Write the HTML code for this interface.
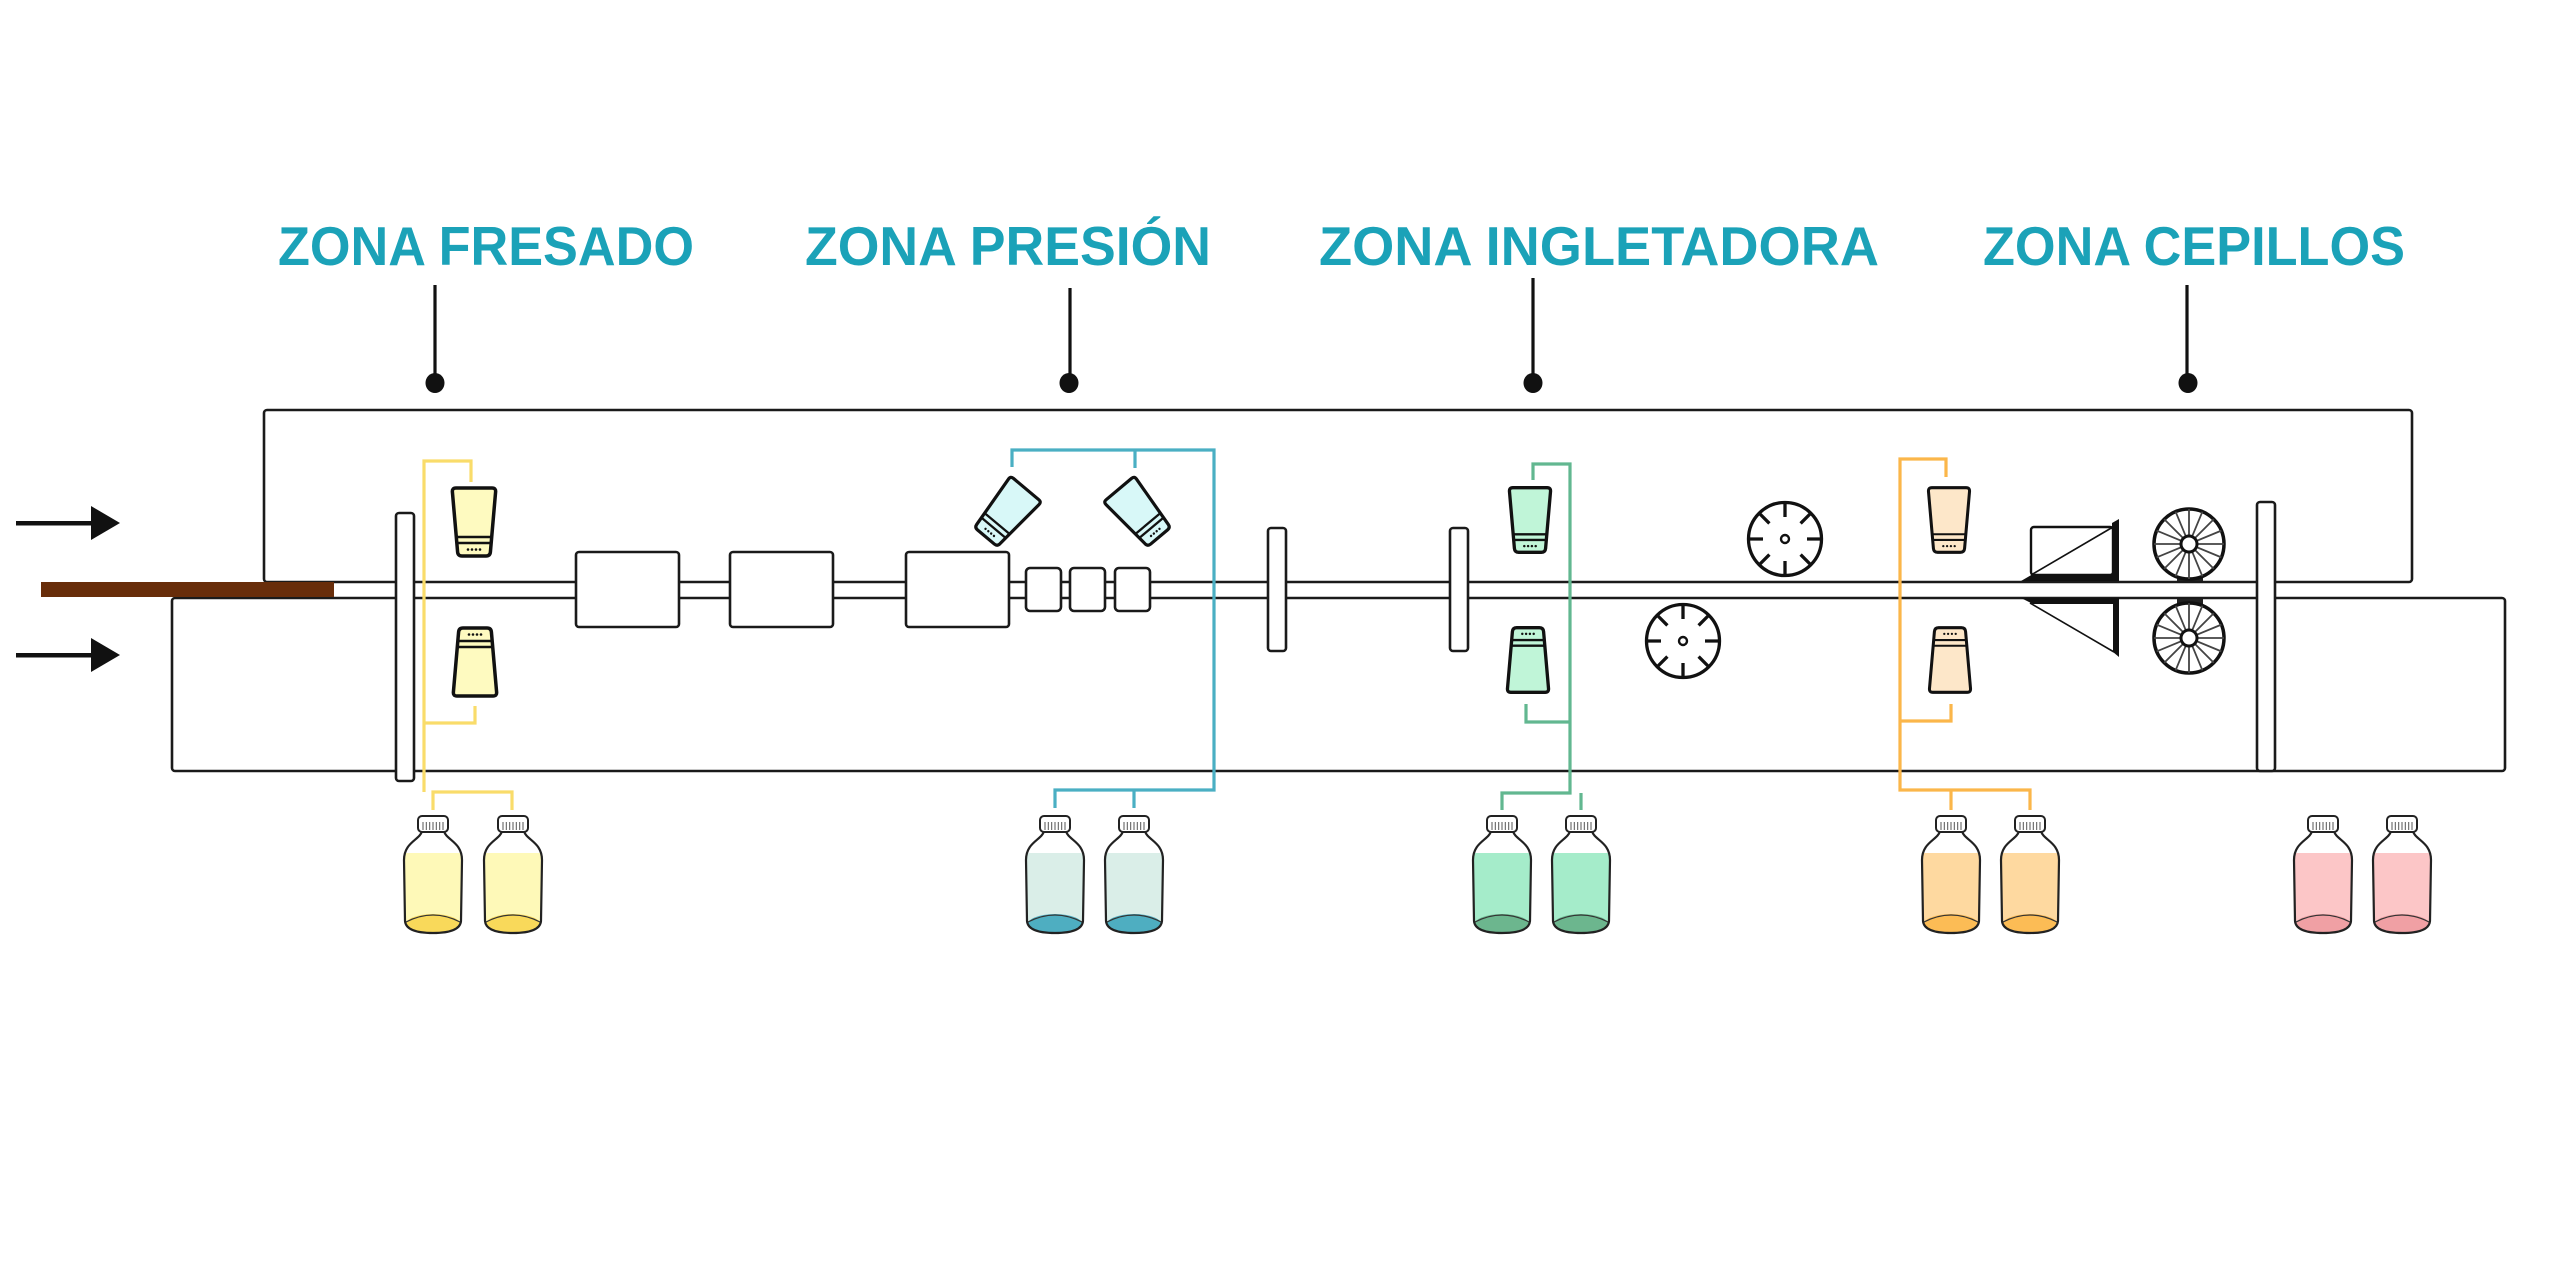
<!DOCTYPE html>
<html>
<head>
<meta charset="utf-8">
<style>
html,body{margin:0;padding:0;background:#fff;}
svg{display:block;}
</style>
</head>
<body>
<svg width="2560" height="1280" viewBox="0 0 2560 1280" xmlns="http://www.w3.org/2000/svg">
<defs>
<clipPath id="bodyclip" clipPathUnits="userSpaceOnUse">
<path d="M-11,15 C-13,24 -29,26 -29,44 L-28,105 Q-27,117 0,117 Q27,117 28,105 L29,44 C29,26 13,24 11,15 Z"/>
</clipPath>
</defs>
<rect width="2560" height="1280" fill="#fff"/>

<!-- Titles -->
<g font-family="'Liberation Sans', sans-serif" font-weight="bold" font-size="55" fill="#1ba2b8">
<text x="278" y="265" textLength="416" lengthAdjust="spacingAndGlyphs">ZONA FRESADO</text>
<text x="805" y="265" textLength="406" lengthAdjust="spacingAndGlyphs">ZONA PRESIÓN</text>
<text x="1319" y="265" textLength="560" lengthAdjust="spacingAndGlyphs">ZONA INGLETADORA</text>
<text x="1983" y="265" textLength="422" lengthAdjust="spacingAndGlyphs">ZONA CEPILLOS</text>
</g>

<!-- Pointer lines -->
<g stroke="#111" stroke-width="3.2">
<line x1="435" y1="285" x2="435" y2="383"/>
<line x1="1070" y1="288" x2="1070" y2="383"/>
<line x1="1533" y1="278" x2="1533" y2="383"/>
<line x1="2187" y1="285" x2="2187" y2="383"/>
</g>
<g fill="#111">
<ellipse cx="435" cy="383" rx="9.5" ry="10"/>
<ellipse cx="1069" cy="383" rx="9.5" ry="10"/>
<ellipse cx="1533" cy="383" rx="9.5" ry="10"/>
<ellipse cx="2188" cy="383" rx="9.5" ry="10"/>
</g>

<!-- Arrows -->
<g fill="#111">
<rect x="16" y="521" width="77" height="4.5"/>
<polygon points="91,506 120,523 91,540"/>
<rect x="16" y="653" width="77" height="4.5"/>
<polygon points="91,638 120,655 91,672"/>
</g>

<!-- Machine boxes -->
<g fill="none" stroke="#1a1a1a" stroke-width="2.6">
<rect x="264" y="410" width="2148" height="172" rx="3"/>
<rect x="172" y="598" width="2333" height="173" rx="3"/>
</g>

<!-- Brown board -->
<rect x="41" y="582" width="293" height="15" fill="#682d0a"/>

<!-- Conveyor blocks -->
<g fill="#fff" stroke="#1a1a1a" stroke-width="2.6">
<rect x="576" y="552" width="103" height="75" rx="3"/>
<rect x="730" y="552" width="103" height="75" rx="3"/>
<rect x="906" y="552" width="103" height="75" rx="3"/>
<rect x="1026" y="568" width="35" height="43" rx="4"/>
<rect x="1070" y="568" width="35" height="43" rx="4"/>
<rect x="1115" y="568" width="35" height="43" rx="4"/>
<!-- vertical bars -->
<rect x="396" y="513" width="18" height="268" rx="3"/>
<rect x="1268" y="528" width="18" height="123" rx="3"/>
<rect x="1450" y="528" width="18" height="123" rx="3"/>
<rect x="2257" y="502" width="18" height="269" rx="3"/>
</g>

<!-- Hoses -->
<g fill="none" stroke-width="3.2" stroke-linejoin="miter">
<g stroke="#f9dc6a">
<path d="M471,482 V461 H424 V792"/>
<path d="M475,706 V723 H424"/>
<path d="M433,810 V792 H512 V810"/>
</g>
<g stroke="#4aafc3">
<path d="M1012,467 V450 H1214 V790 H1055 V808"/>
<path d="M1135,468 V450"/>
<path d="M1134,790 V808"/>
</g>
<g stroke="#62b790">
<path d="M1533,480 V464 H1570 V793 H1502 V810"/>
<path d="M1526,704 V722 H1570"/>
<path d="M1581,793 V810"/>
</g>
<g stroke="#fbb64a">
<path d="M1946,477 V459 H1900 V790 H2030 V810"/>
<path d="M1951,704 V721 H1900"/>
<path d="M1951,790 V810"/>
</g>
</g>

<!-- Tools -->
<g stroke="#111" stroke-linejoin="round">
<!-- yellow upper -->
<g transform="translate(474,522)">
<path d="M-18,-34 L18,-34 Q22,-34 21.6,-30 L16.4,30 Q16,34 12,34 L-12,34 Q-16,34 -16.4,30 L-21.6,-30 Q-22,-34 -18,-34 Z" fill="#fefac0" stroke-width="3.5"/>
<line x1="-17.5" y1="15" x2="17.5" y2="15" stroke-width="2.5"/>
<line x1="-17" y1="21" x2="17" y2="21" stroke-width="2.5"/>
<g fill="#111" stroke="none"><circle cx="-6" cy="27.5" r="1.3"/><circle cx="-2" cy="27.5" r="1.3"/><circle cx="2" cy="27.5" r="1.3"/><circle cx="6" cy="27.5" r="1.3"/></g>
</g>
<!-- yellow lower -->
<g transform="translate(475,662) rotate(180)">
<path d="M-18,-34 L18,-34 Q22,-34 21.6,-30 L16.4,30 Q16,34 12,34 L-12,34 Q-16,34 -16.4,30 L-21.6,-30 Q-22,-34 -18,-34 Z" fill="#fefac0" stroke-width="3.5"/>
<line x1="-17.5" y1="15" x2="17.5" y2="15" stroke-width="2.5"/>
<line x1="-17" y1="21" x2="17" y2="21" stroke-width="2.5"/>
<g fill="#111" stroke="none"><circle cx="-6" cy="27.5" r="1.3"/><circle cx="-2" cy="27.5" r="1.3"/><circle cx="2" cy="27.5" r="1.3"/><circle cx="6" cy="27.5" r="1.3"/></g>
</g>
<!-- blue left -->
<g transform="translate(1006,513) rotate(40) scale(0.92)">
<path d="M-18,-34 L18,-34 Q22,-34 21.6,-30 L16.4,30 Q16,34 12,34 L-12,34 Q-16,34 -16.4,30 L-21.6,-30 Q-22,-34 -18,-34 Z" fill="#d8f8f8" stroke-width="3.5"/>
<line x1="-17.5" y1="15" x2="17.5" y2="15" stroke-width="2.5"/>
<line x1="-17" y1="21" x2="17" y2="21" stroke-width="2.5"/>
<g fill="#111" stroke="none"><circle cx="-6" cy="27.5" r="1.3"/><circle cx="-2" cy="27.5" r="1.3"/><circle cx="2" cy="27.5" r="1.3"/><circle cx="6" cy="27.5" r="1.3"/></g>
</g>
<!-- blue right -->
<g transform="translate(1139,513) rotate(-40) scale(0.92)">
<path d="M-18,-34 L18,-34 Q22,-34 21.6,-30 L16.4,30 Q16,34 12,34 L-12,34 Q-16,34 -16.4,30 L-21.6,-30 Q-22,-34 -18,-34 Z" fill="#d8f8f8" stroke-width="3.5"/>
<line x1="-17.5" y1="15" x2="17.5" y2="15" stroke-width="2.5"/>
<line x1="-17" y1="21" x2="17" y2="21" stroke-width="2.5"/>
<g fill="#111" stroke="none"><circle cx="-6" cy="27.5" r="1.3"/><circle cx="-2" cy="27.5" r="1.3"/><circle cx="2" cy="27.5" r="1.3"/><circle cx="6" cy="27.5" r="1.3"/></g>
</g>
<!-- green upper -->
<g transform="translate(1530,520) scale(0.95)">
<path d="M-18,-34 L18,-34 Q22,-34 21.6,-30 L16.4,30 Q16,34 12,34 L-12,34 Q-16,34 -16.4,30 L-21.6,-30 Q-22,-34 -18,-34 Z" fill="#c0f5d8" stroke-width="3.5"/>
<line x1="-17.5" y1="15" x2="17.5" y2="15" stroke-width="2.5"/>
<line x1="-17" y1="21" x2="17" y2="21" stroke-width="2.5"/>
<g fill="#111" stroke="none"><circle cx="-6" cy="27.5" r="1.3"/><circle cx="-2" cy="27.5" r="1.3"/><circle cx="2" cy="27.5" r="1.3"/><circle cx="6" cy="27.5" r="1.3"/></g>
</g>
<!-- green lower -->
<g transform="translate(1528,660) rotate(180) scale(0.95)">
<path d="M-18,-34 L18,-34 Q22,-34 21.6,-30 L16.4,30 Q16,34 12,34 L-12,34 Q-16,34 -16.4,30 L-21.6,-30 Q-22,-34 -18,-34 Z" fill="#c0f5d8" stroke-width="3.5"/>
<line x1="-17.5" y1="15" x2="17.5" y2="15" stroke-width="2.5"/>
<line x1="-17" y1="21" x2="17" y2="21" stroke-width="2.5"/>
<g fill="#111" stroke="none"><circle cx="-6" cy="27.5" r="1.3"/><circle cx="-2" cy="27.5" r="1.3"/><circle cx="2" cy="27.5" r="1.3"/><circle cx="6" cy="27.5" r="1.3"/></g>
</g>
<!-- orange upper -->
<g transform="translate(1949,520) scale(0.95)">
<path d="M-18,-34 L18,-34 Q22,-34 21.6,-30 L16.4,30 Q16,34 12,34 L-12,34 Q-16,34 -16.4,30 L-21.6,-30 Q-22,-34 -18,-34 Z" fill="#fde7c9" stroke-width="3.2"/>
<line x1="-17.5" y1="15" x2="17.5" y2="15" stroke-width="2.2"/>
<line x1="-17" y1="21" x2="17" y2="21" stroke-width="2.2"/>
<g fill="#111" stroke="none"><circle cx="-6" cy="27.5" r="1.2"/><circle cx="-2" cy="27.5" r="1.2"/><circle cx="2" cy="27.5" r="1.2"/><circle cx="6" cy="27.5" r="1.2"/></g>
</g>
<!-- orange lower -->
<g transform="translate(1950,660) rotate(180) scale(0.95)">
<path d="M-18,-34 L18,-34 Q22,-34 21.6,-30 L16.4,30 Q16,34 12,34 L-12,34 Q-16,34 -16.4,30 L-21.6,-30 Q-22,-34 -18,-34 Z" fill="#fde7c9" stroke-width="3.2"/>
<line x1="-17.5" y1="15" x2="17.5" y2="15" stroke-width="2.2"/>
<line x1="-17" y1="21" x2="17" y2="21" stroke-width="2.2"/>
<g fill="#111" stroke="none"><circle cx="-6" cy="27.5" r="1.2"/><circle cx="-2" cy="27.5" r="1.2"/><circle cx="2" cy="27.5" r="1.2"/><circle cx="6" cy="27.5" r="1.2"/></g>
</g>
</g>

<!-- Cutter wheels (ingletadora) -->
<g fill="#fff" stroke="#111" stroke-width="3.3">
<g transform="translate(1785,539)">
<circle r="36.5"/>
<circle r="4" stroke-width="2.4"/>
<path d="M22,0 H36 M-22,0 H-36 M0,22 V36 M0,-22 V-36 M15.6,15.6 L25.5,25.5 M-15.6,15.6 L-25.5,25.5 M-15.6,-15.6 L-25.5,-25.5 M15.6,-15.6 L25.5,-25.5" fill="none"/>
</g>
<g transform="translate(1683,641)">
<circle r="36.5"/>
<circle r="4" stroke-width="2.4"/>
<path d="M22,0 H36 M-22,0 H-36 M0,22 V36 M0,-22 V-36 M15.6,15.6 L25.5,25.5 M-15.6,15.6 L-25.5,25.5 M-15.6,-15.6 L-25.5,-25.5 M15.6,-15.6 L25.5,-25.5" fill="none"/>
</g>
</g>

<!-- Cepillos triangles -->
<rect x="2031" y="527" width="82" height="48" rx="3" fill="#fff" stroke="#111" stroke-width="2.4"/>
<line x1="2031" y1="575" x2="2113" y2="527" stroke="#111" stroke-width="1.6"/>
<polygon points="2021,581 2033,574 2112,574 2112,523 2119,519 2119,581" fill="#111"/>
<polygon points="2021,598 2119,598 2119,657 2113,652 2113,604 2033,604" fill="#111"/>
<line x1="2030" y1="603" x2="2114" y2="652" stroke="#111" stroke-width="1.6"/>

<!-- Brush wheels -->
<g>
<rect x="2177" y="576" width="26" height="5" fill="#222"/>
<rect x="2177" y="599" width="26" height="5" fill="#222"/>
<g transform="translate(2189,544)">
<circle r="35" fill="#fff" stroke="#111" stroke-width="3.5"/>
<path d="M-35,0 L35,0 M-32.34,-13.39 L32.34,13.39 M-24.75,-24.75 L24.75,24.75 M-13.39,-32.34 L13.39,32.34 M0,-35 L0,35 M13.39,-32.34 L-13.39,32.34 M24.75,-24.75 L-24.75,24.75 M32.34,-13.39 L-32.34,13.39" stroke="#444" stroke-width="1.8"/>
<circle r="8" fill="#fff" stroke="#111" stroke-width="3"/>
</g>
<g transform="translate(2189,638)">
<circle r="35" fill="#fff" stroke="#111" stroke-width="3.5"/>
<path d="M-35,0 L35,0 M-32.34,-13.39 L32.34,13.39 M-24.75,-24.75 L24.75,24.75 M-13.39,-32.34 L13.39,32.34 M0,-35 L0,35 M13.39,-32.34 L-13.39,32.34 M24.75,-24.75 L-24.75,24.75 M32.34,-13.39 L-32.34,13.39" stroke="#444" stroke-width="1.8"/>
<circle r="8" fill="#fff" stroke="#111" stroke-width="3"/>
</g>
</g>

<!-- Bottles -->
<g id="bottles">
<!-- yellow -->
<g transform="translate(433,816)">
<rect x="-30" y="37" width="60" height="82" fill="#fef9b8" clip-path="url(#bodyclip)"/>
<ellipse cx="0" cy="109" rx="28" ry="11" fill="#f9d95a" clip-path="url(#bodyclip)"/>
<path d="M-27,106 Q0,92 27,106" fill="none" stroke="#333" stroke-width="1.2"/>
<path d="M-11,15 C-13,24 -29,26 -29,44 L-28,105 Q-27,117 0,117 Q27,117 28,105 L29,44 C29,26 13,24 11,15 Z" fill="none" stroke="#222" stroke-width="2.2"/>
<rect x="-15" y="0" width="30" height="16" rx="4" fill="#fff" stroke="#222" stroke-width="2"/>
<path d="M-10,6 V14 M-6.7,6 V14 M-3.3,6 V14 M0,6 V14 M3.3,6 V14 M6.7,6 V14 M10,6 V14" stroke="#555" stroke-width="1"/>
</g>
<g transform="translate(513,816)">
<rect x="-30" y="37" width="60" height="82" fill="#fef9b8" clip-path="url(#bodyclip)"/>
<ellipse cx="0" cy="109" rx="28" ry="11" fill="#f9d95a" clip-path="url(#bodyclip)"/>
<path d="M-27,106 Q0,92 27,106" fill="none" stroke="#333" stroke-width="1.2"/>
<path d="M-11,15 C-13,24 -29,26 -29,44 L-28,105 Q-27,117 0,117 Q27,117 28,105 L29,44 C29,26 13,24 11,15 Z" fill="none" stroke="#222" stroke-width="2.2"/>
<rect x="-15" y="0" width="30" height="16" rx="4" fill="#fff" stroke="#222" stroke-width="2"/>
<path d="M-10,6 V14 M-6.7,6 V14 M-3.3,6 V14 M0,6 V14 M3.3,6 V14 M6.7,6 V14 M10,6 V14" stroke="#555" stroke-width="1"/>
</g>
<!-- blue -->
<g transform="translate(1055,816)">
<rect x="-30" y="37" width="60" height="82" fill="#daeee8" clip-path="url(#bodyclip)"/>
<ellipse cx="0" cy="109" rx="28" ry="11" fill="#4eaec1" clip-path="url(#bodyclip)"/>
<path d="M-27,106 Q0,92 27,106" fill="none" stroke="#333" stroke-width="1.2"/>
<path d="M-11,15 C-13,24 -29,26 -29,44 L-28,105 Q-27,117 0,117 Q27,117 28,105 L29,44 C29,26 13,24 11,15 Z" fill="none" stroke="#222" stroke-width="2.2"/>
<rect x="-15" y="0" width="30" height="16" rx="4" fill="#fff" stroke="#222" stroke-width="2"/>
<path d="M-10,6 V14 M-6.7,6 V14 M-3.3,6 V14 M0,6 V14 M3.3,6 V14 M6.7,6 V14 M10,6 V14" stroke="#555" stroke-width="1"/>
</g>
<g transform="translate(1134,816)">
<rect x="-30" y="37" width="60" height="82" fill="#daeee8" clip-path="url(#bodyclip)"/>
<ellipse cx="0" cy="109" rx="28" ry="11" fill="#4eaec1" clip-path="url(#bodyclip)"/>
<path d="M-27,106 Q0,92 27,106" fill="none" stroke="#333" stroke-width="1.2"/>
<path d="M-11,15 C-13,24 -29,26 -29,44 L-28,105 Q-27,117 0,117 Q27,117 28,105 L29,44 C29,26 13,24 11,15 Z" fill="none" stroke="#222" stroke-width="2.2"/>
<rect x="-15" y="0" width="30" height="16" rx="4" fill="#fff" stroke="#222" stroke-width="2"/>
<path d="M-10,6 V14 M-6.7,6 V14 M-3.3,6 V14 M0,6 V14 M3.3,6 V14 M6.7,6 V14 M10,6 V14" stroke="#555" stroke-width="1"/>
</g>
<!-- green -->
<g transform="translate(1502,816)">
<rect x="-30" y="37" width="60" height="82" fill="#a5ecca" clip-path="url(#bodyclip)"/>
<ellipse cx="0" cy="109" rx="28" ry="11" fill="#6cb68e" clip-path="url(#bodyclip)"/>
<path d="M-27,106 Q0,92 27,106" fill="none" stroke="#333" stroke-width="1.2"/>
<path d="M-11,15 C-13,24 -29,26 -29,44 L-28,105 Q-27,117 0,117 Q27,117 28,105 L29,44 C29,26 13,24 11,15 Z" fill="none" stroke="#222" stroke-width="2.2"/>
<rect x="-15" y="0" width="30" height="16" rx="4" fill="#fff" stroke="#222" stroke-width="2"/>
<path d="M-10,6 V14 M-6.7,6 V14 M-3.3,6 V14 M0,6 V14 M3.3,6 V14 M6.7,6 V14 M10,6 V14" stroke="#555" stroke-width="1"/>
</g>
<g transform="translate(1581,816)">
<rect x="-30" y="37" width="60" height="82" fill="#a5ecca" clip-path="url(#bodyclip)"/>
<ellipse cx="0" cy="109" rx="28" ry="11" fill="#6cb68e" clip-path="url(#bodyclip)"/>
<path d="M-27,106 Q0,92 27,106" fill="none" stroke="#333" stroke-width="1.2"/>
<path d="M-11,15 C-13,24 -29,26 -29,44 L-28,105 Q-27,117 0,117 Q27,117 28,105 L29,44 C29,26 13,24 11,15 Z" fill="none" stroke="#222" stroke-width="2.2"/>
<rect x="-15" y="0" width="30" height="16" rx="4" fill="#fff" stroke="#222" stroke-width="2"/>
<path d="M-10,6 V14 M-6.7,6 V14 M-3.3,6 V14 M0,6 V14 M3.3,6 V14 M6.7,6 V14 M10,6 V14" stroke="#555" stroke-width="1"/>
</g>
<!-- orange -->
<g transform="translate(1951,816)">
<rect x="-30" y="37" width="60" height="82" fill="#fed9a0" clip-path="url(#bodyclip)"/>
<ellipse cx="0" cy="109" rx="28" ry="11" fill="#fcbc55" clip-path="url(#bodyclip)"/>
<path d="M-27,106 Q0,92 27,106" fill="none" stroke="#333" stroke-width="1.2"/>
<path d="M-11,15 C-13,24 -29,26 -29,44 L-28,105 Q-27,117 0,117 Q27,117 28,105 L29,44 C29,26 13,24 11,15 Z" fill="none" stroke="#222" stroke-width="2.2"/>
<rect x="-15" y="0" width="30" height="16" rx="4" fill="#fff" stroke="#222" stroke-width="2"/>
<path d="M-10,6 V14 M-6.7,6 V14 M-3.3,6 V14 M0,6 V14 M3.3,6 V14 M6.7,6 V14 M10,6 V14" stroke="#555" stroke-width="1"/>
</g>
<g transform="translate(2030,816)">
<rect x="-30" y="37" width="60" height="82" fill="#fed9a0" clip-path="url(#bodyclip)"/>
<ellipse cx="0" cy="109" rx="28" ry="11" fill="#fcbc55" clip-path="url(#bodyclip)"/>
<path d="M-27,106 Q0,92 27,106" fill="none" stroke="#333" stroke-width="1.2"/>
<path d="M-11,15 C-13,24 -29,26 -29,44 L-28,105 Q-27,117 0,117 Q27,117 28,105 L29,44 C29,26 13,24 11,15 Z" fill="none" stroke="#222" stroke-width="2.2"/>
<rect x="-15" y="0" width="30" height="16" rx="4" fill="#fff" stroke="#222" stroke-width="2"/>
<path d="M-10,6 V14 M-6.7,6 V14 M-3.3,6 V14 M0,6 V14 M3.3,6 V14 M6.7,6 V14 M10,6 V14" stroke="#555" stroke-width="1"/>
</g>
<!-- pink -->
<g transform="translate(2323,816)">
<rect x="-30" y="37" width="60" height="82" fill="#fcc6c7" clip-path="url(#bodyclip)"/>
<ellipse cx="0" cy="109" rx="28" ry="11" fill="#f0a0a4" clip-path="url(#bodyclip)"/>
<path d="M-27,106 Q0,92 27,106" fill="none" stroke="#333" stroke-width="1.2"/>
<path d="M-11,15 C-13,24 -29,26 -29,44 L-28,105 Q-27,117 0,117 Q27,117 28,105 L29,44 C29,26 13,24 11,15 Z" fill="none" stroke="#222" stroke-width="2.2"/>
<rect x="-15" y="0" width="30" height="16" rx="4" fill="#fff" stroke="#222" stroke-width="2"/>
<path d="M-10,6 V14 M-6.7,6 V14 M-3.3,6 V14 M0,6 V14 M3.3,6 V14 M6.7,6 V14 M10,6 V14" stroke="#555" stroke-width="1"/>
</g>
<g transform="translate(2402,816)">
<rect x="-30" y="37" width="60" height="82" fill="#fcc6c7" clip-path="url(#bodyclip)"/>
<ellipse cx="0" cy="109" rx="28" ry="11" fill="#f0a0a4" clip-path="url(#bodyclip)"/>
<path d="M-27,106 Q0,92 27,106" fill="none" stroke="#333" stroke-width="1.2"/>
<path d="M-11,15 C-13,24 -29,26 -29,44 L-28,105 Q-27,117 0,117 Q27,117 28,105 L29,44 C29,26 13,24 11,15 Z" fill="none" stroke="#222" stroke-width="2.2"/>
<rect x="-15" y="0" width="30" height="16" rx="4" fill="#fff" stroke="#222" stroke-width="2"/>
<path d="M-10,6 V14 M-6.7,6 V14 M-3.3,6 V14 M0,6 V14 M3.3,6 V14 M6.7,6 V14 M10,6 V14" stroke="#555" stroke-width="1"/>
</g>
</g>
</svg>
</body>
</html>
